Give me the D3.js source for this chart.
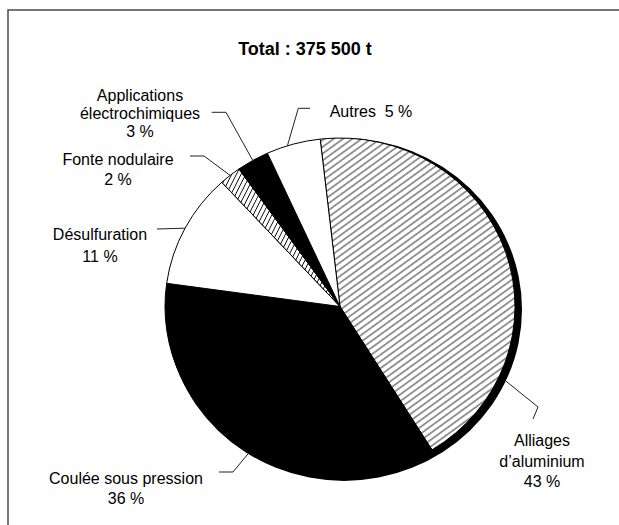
<!DOCTYPE html>
<html>
<head>
<meta charset="utf-8">
<script src="https://cdn.jsdelivr.net/npm/d3@7"></script>
<style>
  html, body { margin: 0; padding: 0; background: #fff; }
  svg { display: block; }
  text { font-family: "Liberation Sans", Arial, sans-serif; fill: #000; }
</style>
</head>
<body>
<svg id="chart" width="619" height="525"></svg>
<script>
// Uses of magnesium (share of total tonnage)
const title = "Total : 375 500 t";
const categories = [
  "Alliages d’aluminium",
  "Coulée sous pression",
  "Désulfuration",
  "Fonte nodulaire",
  "Applications électrochimiques",
  "Autres"
];
const shares = [43, 36, 11, 2, 3, 5];
const nameLines = [
  ["Alliages", "d’aluminium"],
  ["Coulée sous pression"],
  ["Désulfuration"],
  ["Fonte nodulaire"],
  ["Applications", "électrochimiques"],
  ["Autres"]
];

// Drawing styles per slice
const fills = ["url(#hatchWide)", "#000", "#fff", "url(#hatchSteep)", "#000", "#fff"];

// Label placement: text centre, first baseline, line step, leader elbow/end,
// and optional angle (degrees) where the leader touches the pie.
const layout = [
  { x: 542, y: 446, step: 20.5, leader: [[538, 407], [533, 419]], anchorDeg: 115, anchorPad: 8 },
  { x: 126, y: 483.5, step: 20.5, leader: [[233, 472], [219, 472]], anchorDeg: 211, anchorPad: 3 },
  { x: 100, y: 240, step: 21.5, leader: [[157, 229]] },
  { x: 118, y: 165, step: 19.5, leader: [[204, 156], [190, 156]] },
  { x: 140, y: 100.7, step: 18, leader: [[226, 112.3], [211.7, 112.3]] },
  { x: 371, y: 116.7, step: 0, inline: true, leader: [[298.3, 108.3], [310, 108.3]], anchorDeg: -17.5 }
];

const W = 619, H = 525;
const cx = 340, cy = 306.5, rx = 175, ry = 168.5;
const startDeg = -6.5;

const svg = d3.select("#chart");

// Hatch patterns
const defs = svg.append("defs");
function hatch(id, angle, gap, width) {
  const p = defs.append("pattern")
    .attr("id", id)
    .attr("patternUnits", "userSpaceOnUse")
    .attr("width", 20).attr("height", gap)
    .attr("patternTransform", `rotate(${angle})`);
  p.append("rect").attr("width", 20).attr("height", gap).attr("fill", "#fff");
  p.append("line")
    .attr("x1", 0).attr("x2", 20)
    .attr("y1", gap / 2).attr("y2", gap / 2)
    .attr("stroke", "#000").attr("stroke-width", width);
}
hatch("hatchWide", -37, 5.6, 0.85);
hatch("hatchSteep", -64, 4.2, 0.85);

// Outer frame
svg.append("rect")
  .attr("x", 8).attr("y", 10)
  .attr("width", W + 20).attr("height", H + 20)
  .attr("fill", "none")
  .attr("stroke", "#555").attr("stroke-width", 1.6);

// Title
svg.append("text")
  .attr("x", 305).attr("y", 55)
  .attr("text-anchor", "middle")
  .style("font-size", "18px")
  .style("font-weight", "bold")
  .text(title);

// Pie
const pie = d3.pie().sort(null).value(d => d)
  .startAngle(startDeg * Math.PI / 180)
  .endAngle(startDeg * Math.PI / 180 + 2 * Math.PI);
const arcs = pie(shares);
const arc = d3.arc().innerRadius(0).outerRadius(rx);

const sy = ry / rx;
const g = svg.append("g").attr("transform", `translate(${cx},${cy}) scale(1,${sy})`);

// Dark rim below the pie
g.append("circle")
  .attr("cx", 4).attr("cy", 3 / sy)
  .attr("r", rx + 3)
  .attr("fill", "#000");

g.selectAll("path.slice")
  .data(arcs)
  .join("path")
  .attr("class", "slice")
  .attr("d", arc)
  .attr("fill", (d, i) => fills[i])
  .attr("stroke", "#000")
  .attr("stroke-width", 1)
  .attr("vector-effect", "non-scaling-stroke");

// Point on the pie outline at a given angle (radians, clockwise from top)
function outline(a, pad) {
  return [cx + (rx + pad) * Math.sin(a), cy - (ry + pad) * Math.cos(a)];
}

// Leaders
const lineGen = d3.line();
arcs.forEach((d, i) => {
  const L = layout[i];
  const a = L.anchorDeg != null ? L.anchorDeg * Math.PI / 180 : (d.startAngle + d.endAngle) / 2;
  const start = outline(a, L.anchorPad || 0);
  svg.append("path")
    .attr("d", lineGen([start, ...L.leader]))
    .attr("fill", "none")
    .attr("stroke", "#222")
    .attr("stroke-width", 1);
});

// Labels
arcs.forEach((d, i) => {
  const L = layout[i];
  const pct = `${shares[i]} %`;
  const t = svg.append("text")
    .attr("text-anchor", "middle")
    .style("font-size", "16px")
    .style("white-space", "pre");
  if (L.inline) {
    t.attr("x", L.x).attr("y", L.y).text(`${nameLines[i].join(" ")}  ${pct}`);
  } else {
    const lines = [...nameLines[i], pct];
    lines.forEach((s, k) => {
      t.append("tspan").attr("x", L.x).attr("y", L.y + k * L.step).text(s);
    });
  }
});
</script>
</body>
</html>
